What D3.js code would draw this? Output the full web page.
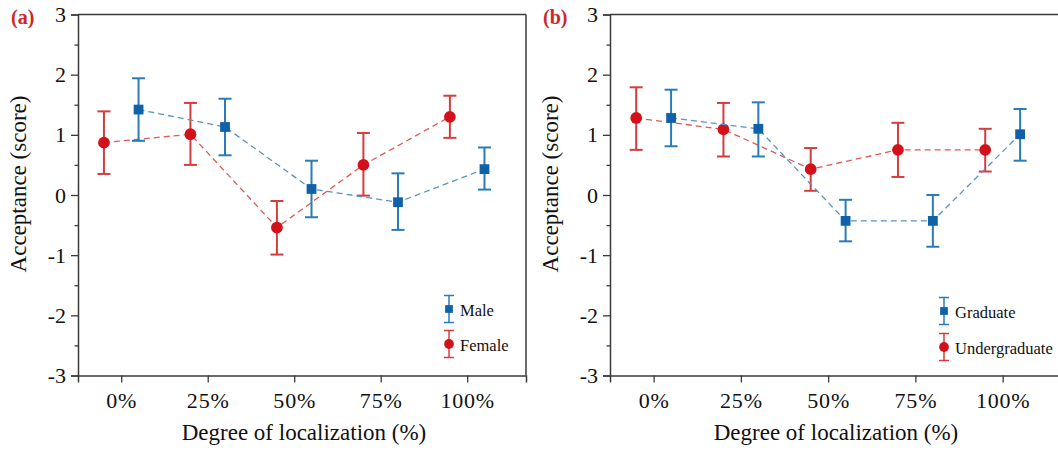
<!DOCTYPE html>
<html><head><meta charset="utf-8">
<script src="https://cdn.jsdelivr.net/npm/d3@7"></script>
<style>body{margin:0;background:#fff}svg{display:block}
svg text{font-family:"Liberation Serif","Times New Roman",Times,"DejaVu Serif",serif !important;}</style>
</head><body>
<svg id="chart" width="1058" height="450"></svg>
<script>
const xTicks = [0, 25, 50, 75, 100];
const xTickLabels = ["0%", "25%", "50%", "75%", "100%"];
const yTicks = [-3, -2, -1, 0, 1, 2, 3];

// Panel (a)
const maleX = [5, 30, 55, 80, 105];
const maleMean = [1.42, 1.13, 0.10, -0.12, 0.43];
const maleLow = [0.90, 0.66, -0.37, -0.58, 0.09];
const maleHigh = [1.94, 1.60, 0.57, 0.36, 0.79];
const femaleX = [-5, 20, 45, 70, 95];
const femaleMean = [0.87, 1.01, -0.54, 0.50, 1.30];
const femaleLow = [0.35, 0.50, -0.99, -0.01, 0.95];
const femaleHigh = [1.39, 1.53, -0.10, 1.03, 1.65];

// Panel (b)
const gradX = [5, 30, 55, 80, 105];
const gradMean = [1.28, 1.10, -0.43, -0.43, 1.01];
const gradLow = [0.81, 0.64, -0.77, -0.86, 0.57];
const gradHigh = [1.75, 1.54, -0.08, 0.00, 1.43];
const ugX = [-5, 20, 45, 70, 95];
const ugMean = [1.28, 1.09, 0.43, 0.75, 0.75];
const ugLow = [0.75, 0.64, 0.07, 0.30, 0.39];
const ugHigh = [1.79, 1.53, 0.78, 1.20, 1.10];

const BLUE = "#0f62a8", BLUE_ERR = "#2a7bb8", BLUE_DASH = "#5a93c4";
const RED = "#d3111b", RED_ERR = "#d73c3d", RED_DASH = "#dc5a58";
const AXIS = "#3a3a3a";

const svg = d3.select("#chart");

function series(xs, means, lows, highs){
  return xs.map((x,i)=>({x, m: means[i], lo: lows[i], hi: highs[i]}));
}

function panel(opt){
  const g = svg.append("g");
  const x = d3.scaleLinear().domain([-12.5, 117]).range([opt.left, opt.right]);
  const y = d3.scaleLinear().domain([-3, 3]).range([375.5, 14.5]);

  g.append("line").attr("x1", opt.left).attr("x2", opt.right).attr("y1", y(3)).attr("y2", y(3))
    .attr("stroke", AXIS).attr("stroke-width", 1.5);
  g.append("line").attr("x1", opt.right).attr("x2", opt.right).attr("y1", y(3)).attr("y2", y(-3))
    .attr("stroke", AXIS).attr("stroke-width", 1.5);

  const yAxis = g.append("g").attr("transform", `translate(${opt.left},0)`)
    .call(d3.axisLeft(y).tickValues(yTicks).tickSize(7).tickPadding(5).tickFormat(d3.format("d")));
  yAxis.select(".domain").attr("stroke", AXIS).attr("stroke-width", 1.5);
  yAxis.selectAll(".tick line").attr("stroke", AXIS).attr("stroke-width", 1.3);
  yAxis.selectAll(".tick text").attr("font-size", 22).attr("fill", "#111")
    .text(d => d < 0 ? "-" + Math.abs(d) : d);
  const yMinor = g.append("g").attr("transform", `translate(${opt.left},0)`)
    .call(d3.axisLeft(y).tickValues([-2.5,-1.5,-0.5,0.5,1.5,2.5]).tickSize(3.5).tickFormat(""));
  yMinor.select(".domain").remove();
  yMinor.selectAll(".tick line").attr("stroke", AXIS).attr("stroke-width", 1.3);

  const xAxis = g.append("g").attr("transform", `translate(0,${y(-3)})`)
    .call(d3.axisBottom(x).tickValues(xTicks).tickSize(7).tickPadding(10)
      .tickFormat((d,i)=>xTickLabels[i]));
  xAxis.select(".domain").attr("stroke", AXIS).attr("stroke-width", 1.5);
  xAxis.selectAll(".tick line").attr("stroke", AXIS).attr("stroke-width", 1.3);
  xAxis.selectAll(".tick text").attr("font-size", 22).attr("fill", "#111")
    .attr("letter-spacing", "0.8px");

  g.append("text").attr("x", opt.left + 226).attr("y", 440)
    .attr("text-anchor", "middle").attr("font-size", 23).attr("fill", "#111")
    .text("Degree of localization (%)");
  g.append("text").attr("transform", `translate(${opt.left - 52},184) rotate(-90)`)
    .attr("text-anchor", "middle").attr("font-size", 23).attr("fill", "#111")
    .text("Acceptance (score)");

  g.append("text").attr("x", opt.left - 67).attr("y", 24)
    .attr("font-size", 20).attr("font-weight", "bold").attr("fill", "#c9282d").text(opt.tag);

  const line = d3.line().x(d=>x(d.x)).y(d=>y(d.m));

  function drawSeries(data, col, errCol, dashCol, shape){
    g.append("path").datum(data).attr("d", line).attr("fill", "none")
      .attr("stroke", dashCol).attr("stroke-width", 1.3).attr("stroke-dasharray", "6,4");
    const e = g.append("g");
    data.forEach(d=>{
      e.append("line").attr("x1", x(d.x)).attr("x2", x(d.x)).attr("y1", y(d.lo)).attr("y2", y(d.hi))
        .attr("stroke", errCol).attr("stroke-width", 2);
      [d.lo, d.hi].forEach(v=>{
        e.append("line").attr("x1", x(d.x)-6.5).attr("x2", x(d.x)+6.5).attr("y1", y(v)).attr("y2", y(v))
          .attr("stroke", errCol).attr("stroke-width", 2);
      });
    });
    const sym = d3.symbol().type(shape === "square" ? d3.symbolSquare : d3.symbolCircle)
      .size(shape === "square" ? 96 : 108);
    g.selectAll(null).data(data).enter().append("path")
      .attr("d", sym).attr("transform", d=>`translate(${x(d.x)},${y(d.m)})`).attr("fill", col);
  }

  drawSeries(opt.red, RED, RED_ERR, RED_DASH, "circle");
  drawSeries(opt.blue, BLUE, BLUE_ERR, BLUE_DASH, "square");

  const lg = g.append("g");
  const items = [
    {name: opt.blueName, col: BLUE, err: BLUE_ERR, shape: "square", cy: opt.legY},
    {name: opt.redName, col: RED, err: RED_ERR, shape: "circle", cy: opt.legY + opt.legGap}
  ];
  items.forEach(it=>{
    lg.append("line").attr("x1", opt.legX).attr("x2", opt.legX).attr("y1", it.cy-13.5).attr("y2", it.cy+13.5)
      .attr("stroke", it.err).attr("stroke-width", 1.5);
    [it.cy-13.5, it.cy+13.5].forEach(v=>{
      lg.append("line").attr("x1", opt.legX-5).attr("x2", opt.legX+5).attr("y1", v).attr("y2", v)
        .attr("stroke", it.err).attr("stroke-width", 1.5);
    });
    lg.append("path").attr("d", d3.symbol().type(it.shape === "square" ? d3.symbolSquare : d3.symbolCircle)
      .size(it.shape === "square" ? 60 : 75)).attr("transform", `translate(${opt.legX},${it.cy})`).attr("fill", it.col);
    lg.append("text").attr("x", opt.legX + 11).attr("y", it.cy + 6.5)
      .attr("font-size", 16.5).attr("fill", "#111").text(it.name);
  });
}

panel({
  left: 78, right: 526, tag: "(a)",
  blue: series(maleX, maleMean, maleLow, maleHigh),
  red: series(femaleX, femaleMean, femaleLow, femaleHigh),
  blueName: "Male", redName: "Female", legX: 449, legY: 309, legGap: 35
});
panel({
  left: 610, right: 1062, tag: "(b)",
  blue: series(gradX, gradMean, gradLow, gradHigh),
  red: series(ugX, ugMean, ugLow, ugHigh),
  blueName: "Graduate", redName: "Undergraduate", legX: 944, legY: 311, legGap: 36
});
</script>
</body></html>
